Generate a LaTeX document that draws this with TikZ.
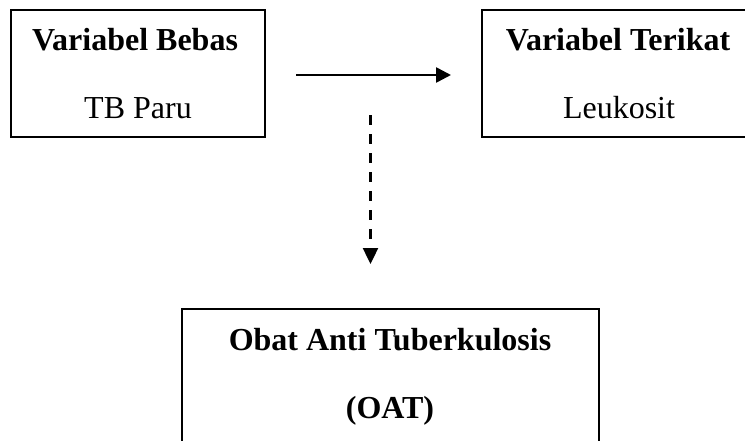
\documentclass[tikz,border=0pt]{standalone}
\usepackage{fontspec}
\setmainfont{Liberation Serif}
\usetikzlibrary{arrows.meta}
\begin{document}
\begin{tikzpicture}[x=1pt,y=-1pt,
  boxnode/.style={draw=black,line width=2pt,inner sep=0pt,fill=none},
  headtext/.style={anchor=base,inner sep=0pt,font=\fontsize{32}{38}\selectfont\bfseries},
  bodytext/.style={anchor=base,inner sep=0pt,font=\fontsize{32}{38}\selectfont},
  solidarrow/.style={line width=2.6pt,-{Triangle[length=15pt,width=15pt]}},
  dasharrow/.style={line width=2.4pt,dash pattern=on 10pt off 9pt,-{Triangle[length=16pt,width=15pt]}}]
\useasboundingbox (0,0) rectangle (745,440);
% boxes
\node[boxnode,minimum width=254.5pt,minimum height=127pt] (bebas) at (137.75,73.5) {};
\node[boxnode,minimum width=272pt,minimum height=127pt] (terikat) at (618,73.5) {};
\node[boxnode,minimum width=417pt,minimum height=180pt] (oat) at (390,399) {};
% texts
\node[headtext] (t1) at (135,50) {Variabel Bebas};
\node[bodytext] (t2) at (138,118) {TB Paru};
\node[headtext] (t3) at (618,50) {Variabel Terikat};
\node[bodytext] (t4) at (619,118) {Leukosit};
\node[headtext] (t5) at (390,350) {Obat Anti Tuberkulosis};
\node[headtext] (t6) at (390,418) {(OAT)};
% connectors
\draw[solidarrow,shorten <=30pt,shorten >=30pt] (bebas.east |- 0,75) -- (terikat.west |- 0,75);
\coordinate (dstart) at (370.5,115);
\coordinate (dend) at (370.5,264);
\draw[dasharrow] (dstart) -- (dend);
\end{tikzpicture}
\end{document}
